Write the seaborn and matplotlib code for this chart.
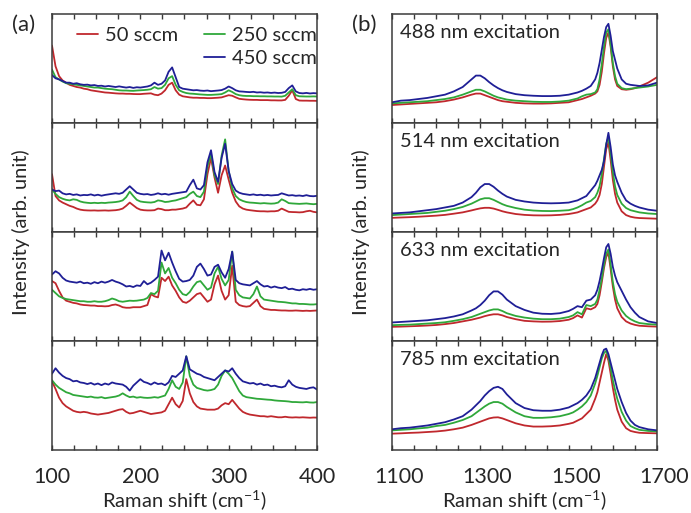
import numpy as np
import pandas as pd
import matplotlib
matplotlib.use("Agg")
import matplotlib.pyplot as plt
from matplotlib.lines import Line2D
from matplotlib.ticker import MultipleLocator, FixedLocator, NullFormatter
from matplotlib.transforms import ScaledTranslation
import seaborn as sns

# ---------------- data ----------------
flows = ["50 sccm", "250 sccm", "450 sccm"]
colors = ["#c0282d", "#2fa83a", "#1f1f96"]
lasers = ["488 nm excitation", "514 nm excitation", "633 nm excitation", "785 nm excitation"]
ticks_a = [100, 200, 300, 400]
ticks_b = [1100, 1300, 1500, 1700]

x_a = list(range(100, 401, 4))

a1_red = [0.71, 0.52, 0.43, 0.39, 0.37, 0.35, 0.34, 0.33, 0.325, 0.315,
          0.31, 0.30, 0.295, 0.29, 0.285, 0.28, 0.278, 0.275, 0.272, 0.27,
          0.27, 0.268, 0.268, 0.266, 0.265, 0.265, 0.268, 0.27, 0.272, 0.26,
          0.255, 0.27, 0.30, 0.35, 0.37, 0.30, 0.26, 0.245, 0.24, 0.235,
          0.232, 0.232, 0.23, 0.23, 0.228, 0.228, 0.23, 0.232, 0.235, 0.245,
          0.255, 0.25, 0.235, 0.222, 0.218, 0.215, 0.213, 0.212, 0.212, 0.21,
          0.21, 0.21, 0.208, 0.208, 0.207, 0.207, 0.212, 0.25, 0.30, 0.22,
          0.206, 0.205, 0.205, 0.204, 0.204, 0.203]
a1_green = [0.49, 0.42, 0.40, 0.38, 0.365, 0.36, 0.355, 0.35, 0.345, 0.34,
            0.335, 0.33, 0.325, 0.325, 0.32, 0.315, 0.312, 0.31, 0.305, 0.30,
            0.298, 0.298, 0.296, 0.295, 0.298, 0.30, 0.302, 0.305, 0.31, 0.33,
            0.315, 0.32, 0.35, 0.41, 0.43, 0.35, 0.30, 0.285, 0.275, 0.27,
            0.268, 0.265, 0.262, 0.26, 0.258, 0.258, 0.26, 0.262, 0.265, 0.28,
            0.30, 0.285, 0.265, 0.255, 0.25, 0.248, 0.248, 0.246, 0.246, 0.245,
            0.245, 0.244, 0.244, 0.243, 0.243, 0.242, 0.25, 0.28, 0.31, 0.255,
            0.245, 0.244, 0.243, 0.243, 0.244, 0.243]
a1_blue = [0.44, 0.41, 0.40, 0.385, 0.37, 0.37, 0.36, 0.365, 0.355, 0.35,
           0.352, 0.345, 0.348, 0.34, 0.342, 0.335, 0.34, 0.335, 0.33, 0.336,
           0.33, 0.325, 0.33, 0.322, 0.328, 0.325, 0.33, 0.335, 0.345, 0.37,
           0.35, 0.36, 0.39, 0.47, 0.51, 0.42, 0.33, 0.315, 0.31, 0.305,
           0.30, 0.302, 0.297, 0.295, 0.298, 0.292, 0.295, 0.298, 0.302, 0.315,
           0.335, 0.32, 0.30, 0.29, 0.288, 0.285, 0.283, 0.286, 0.28, 0.282,
           0.278, 0.28, 0.276, 0.279, 0.275, 0.277, 0.285, 0.32, 0.345, 0.29,
           0.275, 0.272, 0.276, 0.271, 0.274, 0.272]

a2_red = [0.53, 0.33, 0.29, 0.27, 0.255, 0.24, 0.23, 0.215, 0.205, 0.20,
          0.198, 0.197, 0.198, 0.196, 0.197, 0.198, 0.196, 0.198, 0.20, 0.205,
          0.215, 0.24, 0.27, 0.245, 0.22, 0.205, 0.20, 0.198, 0.198, 0.20,
          0.215, 0.21, 0.20, 0.20, 0.205, 0.205, 0.21, 0.215, 0.225, 0.26,
          0.29, 0.25, 0.245, 0.30, 0.53, 0.68, 0.50, 0.36, 0.52, 0.61,
          0.48, 0.36, 0.28, 0.235, 0.215, 0.205, 0.20, 0.196, 0.192, 0.19,
          0.19, 0.188, 0.19, 0.19, 0.195, 0.215, 0.20, 0.185, 0.183, 0.182,
          0.18, 0.182, 0.19, 0.195, 0.185, 0.18]
a2_green = [0.39, 0.35, 0.32, 0.305, 0.295, 0.29, 0.30, 0.295, 0.28, 0.272,
            0.268, 0.265, 0.268, 0.265, 0.268, 0.266, 0.27, 0.272, 0.275, 0.28,
            0.29, 0.32, 0.37, 0.33, 0.295, 0.28, 0.275, 0.272, 0.27, 0.275,
            0.29, 0.285, 0.275, 0.278, 0.285, 0.29, 0.30, 0.31, 0.32, 0.35,
            0.37, 0.33, 0.32, 0.37, 0.60, 0.72, 0.52, 0.44, 0.70, 0.85,
            0.56, 0.40, 0.33, 0.30, 0.285, 0.275, 0.27, 0.268, 0.265, 0.262,
            0.265, 0.262, 0.26, 0.262, 0.27, 0.30, 0.285, 0.265, 0.262, 0.26,
            0.258, 0.26, 0.262, 0.258, 0.255, 0.258]
a2_blue = [0.39, 0.375, 0.38, 0.355, 0.345, 0.35, 0.34, 0.345, 0.335, 0.34,
           0.338, 0.345, 0.335, 0.342, 0.333, 0.34, 0.345, 0.35, 0.355, 0.35,
           0.36, 0.39, 0.42, 0.39, 0.36, 0.35, 0.345, 0.348, 0.34, 0.345,
           0.355, 0.345, 0.35, 0.342, 0.35, 0.355, 0.36, 0.365, 0.37, 0.43,
           0.48, 0.40, 0.39, 0.43, 0.64, 0.75, 0.55, 0.46, 0.68, 0.81,
           0.56, 0.44, 0.38, 0.36, 0.35, 0.345, 0.34, 0.345, 0.338, 0.342,
           0.336, 0.34, 0.335, 0.338, 0.34, 0.355, 0.345, 0.335, 0.338, 0.332,
           0.335, 0.33, 0.338, 0.33, 0.328, 0.332]

a3_red = [0.55, 0.53, 0.46, 0.40, 0.37, 0.36, 0.35, 0.345, 0.335, 0.33,
          0.328, 0.325, 0.325, 0.32, 0.32, 0.318, 0.32, 0.33, 0.335, 0.325,
          0.31, 0.305, 0.305, 0.31, 0.31, 0.31, 0.32, 0.33, 0.43, 0.41,
          0.40, 0.58, 0.55, 0.59, 0.51, 0.46, 0.40, 0.36, 0.35, 0.37,
          0.40, 0.43, 0.44, 0.40, 0.36, 0.38, 0.52, 0.60, 0.46, 0.38,
          0.42, 0.69, 0.36, 0.33, 0.32, 0.315, 0.32, 0.35, 0.38, 0.32,
          0.295, 0.29, 0.285, 0.285, 0.282, 0.28, 0.28, 0.278, 0.278, 0.28,
          0.278, 0.276, 0.278, 0.276, 0.278, 0.28]
a3_green = [0.47, 0.44, 0.41, 0.395, 0.385, 0.38, 0.375, 0.37, 0.365, 0.365,
            0.36, 0.36, 0.365, 0.36, 0.36, 0.365, 0.375, 0.39, 0.38, 0.365,
            0.36, 0.365, 0.37, 0.368, 0.37, 0.375, 0.38, 0.395, 0.44, 0.43,
            0.46, 0.72, 0.62, 0.67, 0.58, 0.53, 0.47, 0.43, 0.42, 0.45,
            0.50, 0.54, 0.55, 0.51, 0.47, 0.49, 0.62, 0.68, 0.57, 0.51,
            0.56, 0.82, 0.47, 0.42, 0.40, 0.395, 0.39, 0.43, 0.50, 0.41,
            0.38, 0.375, 0.37, 0.365, 0.36, 0.358, 0.355, 0.35, 0.345, 0.345,
            0.34, 0.34, 0.338, 0.335, 0.335, 0.338]
a3_blue = [0.61, 0.64, 0.62, 0.58, 0.555, 0.545, 0.54, 0.535, 0.545, 0.53,
           0.535, 0.525, 0.54, 0.53, 0.545, 0.535, 0.545, 0.56, 0.545, 0.535,
           0.52, 0.50, 0.505, 0.495, 0.51, 0.505, 0.55, 0.52, 0.535, 0.56,
           0.59, 0.83, 0.74, 0.81, 0.72, 0.64, 0.57, 0.545, 0.55, 0.56,
           0.60, 0.68, 0.71, 0.66, 0.60, 0.61, 0.68, 0.70, 0.63, 0.58,
           0.66, 0.82, 0.56, 0.53, 0.52, 0.515, 0.51, 0.53, 0.55, 0.52,
           0.50, 0.505, 0.49, 0.50, 0.49, 0.485, 0.495, 0.475, 0.48, 0.47,
           0.465, 0.475, 0.47, 0.478, 0.47, 0.475]

a4_red = [0.63, 0.56, 0.48, 0.43, 0.40, 0.38, 0.36, 0.35, 0.345, 0.35,
          0.345, 0.335, 0.33, 0.325, 0.33, 0.335, 0.34, 0.35, 0.36, 0.37,
          0.375, 0.35, 0.335, 0.34, 0.35, 0.36, 0.35, 0.34, 0.33, 0.335,
          0.34, 0.345, 0.36, 0.42, 0.48, 0.42, 0.39, 0.45, 0.65, 0.52,
          0.44, 0.40, 0.38, 0.375, 0.37, 0.37, 0.37, 0.38, 0.41, 0.43,
          0.42, 0.46, 0.42, 0.38, 0.35, 0.335, 0.325, 0.32, 0.315, 0.31,
          0.31, 0.305, 0.31, 0.305, 0.30, 0.30, 0.305, 0.30, 0.298, 0.30,
          0.298, 0.30, 0.298, 0.296, 0.298, 0.297]
a4_green = [0.64, 0.60, 0.57, 0.55, 0.53, 0.52, 0.505, 0.50, 0.495, 0.49,
            0.485, 0.49, 0.482, 0.48, 0.485, 0.475, 0.48, 0.485, 0.49, 0.50,
            0.52, 0.50, 0.485, 0.49, 0.48, 0.485, 0.48, 0.478, 0.48, 0.485,
            0.48, 0.49, 0.50, 0.56, 0.64, 0.58, 0.56, 0.62, 0.86, 0.68,
            0.60, 0.57, 0.56, 0.55, 0.545, 0.55, 0.56, 0.60, 0.68, 0.73,
            0.70, 0.66, 0.60, 0.54, 0.50, 0.485, 0.48, 0.475, 0.47, 0.468,
            0.465, 0.462, 0.46, 0.455, 0.452, 0.45, 0.448, 0.445, 0.44, 0.44,
            0.438, 0.437, 0.44, 0.436, 0.435, 0.44]
a4_blue = [0.70, 0.75, 0.71, 0.68, 0.66, 0.65, 0.63, 0.635, 0.62, 0.615,
           0.605, 0.615, 0.60, 0.61, 0.595, 0.61, 0.60, 0.62, 0.61, 0.605,
           0.60, 0.58, 0.545, 0.59, 0.62, 0.65, 0.625, 0.615, 0.60, 0.62,
           0.605, 0.61, 0.595, 0.62, 0.68, 0.67, 0.70, 0.73, 0.86, 0.74,
           0.72, 0.70, 0.69, 0.67, 0.66, 0.65, 0.64, 0.67, 0.70, 0.73,
           0.72, 0.75, 0.70, 0.66, 0.63, 0.62, 0.61, 0.615, 0.60, 0.61,
           0.595, 0.60, 0.585, 0.59, 0.58, 0.575, 0.585, 0.64, 0.60, 0.58,
           0.57, 0.565, 0.56, 0.57, 0.575, 0.555]

x_b = [1100, 1120, 1140, 1160, 1180, 1200, 1220, 1240, 1260, 1280,
       1290, 1300, 1310, 1320, 1330, 1340, 1350, 1360,
       1380, 1400, 1420, 1440, 1460, 1480, 1500,
       1510, 1520, 1530, 1540, 1550, 1560,
       1565, 1570, 1575, 1580, 1585, 1590, 1595, 1600, 1605, 1610,
       1620, 1630, 1640, 1650, 1660, 1680, 1700]

b1_red = [0.165, 0.17, 0.175, 0.18, 0.185, 0.19, 0.20, 0.215, 0.235, 0.26,
          0.27, 0.27, 0.255, 0.24, 0.225, 0.21, 0.20, 0.195,
          0.185, 0.18, 0.178, 0.178, 0.18, 0.185, 0.19,
          0.20, 0.21, 0.22, 0.235, 0.25, 0.27,
          0.29, 0.35, 0.47, 0.64, 0.78, 0.83, 0.70, 0.52, 0.40, 0.34,
          0.31, 0.305, 0.31, 0.32, 0.335, 0.37, 0.42]
b1_green = [0.18, 0.185, 0.19, 0.195, 0.20, 0.21, 0.22, 0.235, 0.26, 0.29,
            0.305, 0.305, 0.29, 0.27, 0.25, 0.235, 0.225, 0.215,
            0.205, 0.20, 0.195, 0.193, 0.193, 0.197, 0.205,
            0.215, 0.225, 0.245, 0.26, 0.265, 0.28,
            0.31, 0.40, 0.54, 0.70, 0.83, 0.86, 0.72, 0.55, 0.43, 0.36,
            0.32, 0.31, 0.315, 0.32, 0.325, 0.335, 0.35]
b1_blue = [0.19, 0.205, 0.21, 0.22, 0.23, 0.245, 0.26, 0.29, 0.33, 0.40,
           0.435, 0.435, 0.41, 0.375, 0.345, 0.32, 0.30, 0.285,
           0.265, 0.255, 0.25, 0.247, 0.247, 0.25, 0.26,
           0.27, 0.28, 0.295, 0.315, 0.34, 0.40,
           0.46, 0.55, 0.67, 0.79, 0.88, 0.91, 0.80, 0.66, 0.58, 0.50,
           0.40, 0.36, 0.35, 0.345, 0.34, 0.345, 0.37]

b2_red = [0.13, 0.133, 0.136, 0.14, 0.145, 0.15, 0.157, 0.168, 0.18, 0.198,
          0.208, 0.217, 0.222, 0.222, 0.215, 0.203, 0.19, 0.18,
          0.165, 0.157, 0.153, 0.152, 0.153, 0.157, 0.165,
          0.172, 0.18, 0.195, 0.21, 0.225, 0.26,
          0.29, 0.34, 0.44, 0.60, 0.76, 0.82, 0.66, 0.48, 0.35, 0.27,
          0.19, 0.155, 0.14, 0.132, 0.128, 0.125, 0.122]
b2_green = [0.155, 0.16, 0.165, 0.17, 0.175, 0.185, 0.195, 0.21, 0.23, 0.26,
            0.28, 0.30, 0.31, 0.31, 0.295, 0.275, 0.255, 0.24,
            0.22, 0.205, 0.197, 0.193, 0.192, 0.195, 0.20,
            0.21, 0.225, 0.245, 0.27, 0.285, 0.32,
            0.36, 0.42, 0.53, 0.67, 0.81, 0.87, 0.72, 0.55, 0.42, 0.34,
            0.26, 0.22, 0.20, 0.19, 0.18, 0.17, 0.165]
b2_blue = [0.17, 0.175, 0.18, 0.19, 0.20, 0.21, 0.225, 0.24, 0.27, 0.32,
           0.36, 0.41, 0.44, 0.44, 0.415, 0.38, 0.35, 0.325,
           0.295, 0.28, 0.27, 0.265, 0.263, 0.265, 0.27,
           0.28, 0.29, 0.31, 0.33, 0.38, 0.43,
           0.47, 0.52, 0.57, 0.65, 0.80, 0.91, 0.78, 0.62, 0.52, 0.46,
           0.36, 0.29, 0.26, 0.24, 0.225, 0.205, 0.195]

b3_red = [0.13, 0.132, 0.135, 0.138, 0.142, 0.147, 0.155, 0.165, 0.18, 0.195,
          0.205, 0.215, 0.228, 0.238, 0.245, 0.245, 0.235, 0.22,
          0.20, 0.185, 0.18, 0.177, 0.178, 0.183, 0.195,
          0.21, 0.235, 0.215, 0.30, 0.29, 0.31,
          0.34, 0.42, 0.54, 0.67, 0.77, 0.81, 0.66, 0.50, 0.38, 0.30,
          0.22, 0.18, 0.16, 0.148, 0.14, 0.135, 0.132]
b3_green = [0.145, 0.148, 0.15, 0.155, 0.16, 0.165, 0.172, 0.185, 0.20, 0.22,
            0.235, 0.25, 0.265, 0.28, 0.29, 0.29, 0.275, 0.255,
            0.23, 0.215, 0.205, 0.20, 0.20, 0.205, 0.22,
            0.235, 0.265, 0.245, 0.33, 0.32, 0.34,
            0.38, 0.47, 0.57, 0.70, 0.80, 0.84, 0.70, 0.54, 0.43, 0.36,
            0.28, 0.23, 0.20, 0.18, 0.165, 0.155, 0.15]
b3_blue = [0.17, 0.175, 0.18, 0.185, 0.19, 0.20, 0.21, 0.225, 0.245, 0.28,
           0.30, 0.33, 0.37, 0.42, 0.455, 0.455, 0.425, 0.38,
           0.32, 0.285, 0.26, 0.25, 0.248, 0.255, 0.275,
           0.295, 0.32, 0.31, 0.37, 0.38, 0.42,
           0.47, 0.55, 0.65, 0.76, 0.86, 0.89, 0.80, 0.68, 0.60, 0.54,
           0.46, 0.38, 0.31, 0.26, 0.22, 0.18, 0.165]

b4_red = [0.15, 0.153, 0.157, 0.16, 0.165, 0.17, 0.178, 0.19, 0.205, 0.23,
          0.245, 0.26, 0.275, 0.29, 0.298, 0.30, 0.29, 0.275,
          0.245, 0.225, 0.215, 0.215, 0.218, 0.225, 0.24,
          0.25, 0.27, 0.29, 0.33, 0.37, 0.47,
          0.53, 0.62, 0.71, 0.80, 0.88, 0.82, 0.70, 0.57, 0.46, 0.37,
          0.26, 0.20, 0.175, 0.165, 0.158, 0.155, 0.153]
b4_green = [0.18, 0.185, 0.19, 0.198, 0.205, 0.22, 0.23, 0.25, 0.275, 0.31,
            0.34, 0.37, 0.40, 0.425, 0.44, 0.44, 0.425, 0.395,
            0.345, 0.31, 0.295, 0.295, 0.30, 0.31, 0.33,
            0.345, 0.37, 0.40, 0.44, 0.50, 0.61,
            0.68, 0.76, 0.84, 0.89, 0.91, 0.85, 0.75, 0.64, 0.55, 0.47,
            0.35, 0.27, 0.22, 0.20, 0.185, 0.175, 0.17]
b4_blue = [0.19, 0.20, 0.205, 0.215, 0.225, 0.24, 0.255, 0.28, 0.31, 0.37,
           0.41, 0.45, 0.50, 0.54, 0.57, 0.58, 0.56, 0.51,
           0.43, 0.385, 0.365, 0.36, 0.36, 0.37, 0.39,
           0.41, 0.43, 0.46, 0.50, 0.56, 0.66,
           0.73, 0.80, 0.87, 0.92, 0.93, 0.88, 0.80, 0.72, 0.64, 0.56,
           0.44, 0.34, 0.27, 0.23, 0.21, 0.19, 0.18]

left_panels = [(a1_red, a1_green, a1_blue), (a2_red, a2_green, a2_blue),
               (a3_red, a3_green, a3_blue), (a4_red, a4_green, a4_blue)]
right_panels = [(b1_red, b1_green, b1_blue), (b2_red, b2_green, b2_blue),
                (b3_red, b3_green, b3_blue), (b4_red, b4_green, b4_blue)]


def long_df(x, series):
    rows = []
    for name, ys in zip(flows, series):
        assert len(ys) == len(x), (name, len(ys), len(x))
        for xv, yv in zip(x, ys):
            rows.append((xv, yv, name))
    return pd.DataFrame(rows, columns=["shift", "intensity", "flow"])


# ---------------- style ----------------
sns.set_theme(style="white")
FONT = ["Lato", "DejaVu Sans"]
plt.rcParams["font.family"] = FONT
plt.rcParams["mathtext.fontset"] = "custom"
plt.rcParams["mathtext.rm"] = "Lato"
plt.rcParams["mathtext.it"] = "Lato:italic"
plt.rcParams["mathtext.bf"] = "Lato:bold"
TXT = "#262626"
SPINE = "#3a3a3a"
FS = 14.5
TFS = 15.5

W, H = 691, 513
fig = plt.figure(figsize=(W / 100, H / 100), dpi=100)

top_px, bot_px = 14, 450
panel_h = (bot_px - top_px) / 4
lefts = [52, 392]
width_px = 265
palette = dict(zip(flows, colors))


def make_axes(col):
    axes = []
    for i in range(4):
        top_i = top_px + i * panel_h
        ax = fig.add_axes([lefts[col] / W, (H - top_i - panel_h) / H,
                           width_px / W, panel_h / H])
        axes.append(ax)
    return axes


axes_a = make_axes(0)
axes_b = make_axes(1)

for col, (axes, xs, panels, xlim, minor, majors) in enumerate([
        (axes_a, x_a, left_panels, (100, 400), 25, ticks_a),
        (axes_b, x_b, right_panels, (1100, 1700), 50, ticks_b)]):
    for i, ax in enumerate(axes):
        df = long_df(xs, panels[i])
        sns.lineplot(data=df, x="shift", y="intensity", hue="flow",
                     hue_order=flows, palette=palette, estimator=None,
                     legend=False, linewidth=1.3, ax=ax)
        ax.set_xlim(*xlim)
        ax.set_ylim(0, 1)
        ax.set_xlabel("")
        ax.set_ylabel("")
        ax.set_yticks([])
        ax.xaxis.set_major_locator(FixedLocator(majors))
        ax.xaxis.set_minor_locator(MultipleLocator(minor))
        ax.tick_params(axis="x", which="both", direction="in", top=True,
                       bottom=True, length=3.5, width=1.0, color=SPINE,
                       labelsize=TFS, labelcolor=TXT, pad=12)
        for sp in ax.spines.values():
            sp.set_color(SPINE)
            sp.set_linewidth(1.1)
        if i < 3:
            ax.xaxis.set_major_formatter(NullFormatter())
        if col == 1:
            ax.text(0.03, 0.83, lasers[i], transform=ax.transAxes,
                    fontsize=FS, color=TXT, ha="left", va="center")

for ax in (axes_a[3], axes_b[3]):
    ax.set_xlabel(r"Raman shift (cm$^{\mathregular{-1}}$)", fontsize=FS,
                  color=TXT, labelpad=1)

# shift right-panel tick labels slightly to the right, as in the reference
fig.canvas.draw()
for lbl in axes_b[3].get_xticklabels():
    lbl.set_transform(lbl.get_transform() + ScaledTranslation(7 / 100, 0, fig.dpi_scale_trans))

# legend in (a) top panel
handles = [Line2D([], [], color=colors[0], lw=1.3),
           Line2D([], [], color="none", lw=0),
           Line2D([], [], color=colors[1], lw=1.3),
           Line2D([], [], color=colors[2], lw=1.3)]
labels = [flows[0], "", flows[1], flows[2]]
axes_a[0].legend(handles, labels, ncol=2, loc="upper left",
                 bbox_to_anchor=(0.025, 1.05), frameon=False, fontsize=FS,
                 handlelength=1.05, handletextpad=0.35, columnspacing=1.3,
                 labelspacing=0.3, labelcolor=TXT)

fig.text(12 / W, 1 - 25 / H, "(a)", fontsize=16, color=TXT, ha="left", va="center")
fig.text(352 / W, 1 - 25 / H, "(b)", fontsize=16, color=TXT, ha="left", va="center")
fig.text(21 / W, 1 - 232 / H, "Intensity (arb. unit)", rotation=90,
         fontsize=FS, color=TXT, ha="center", va="center")
fig.text(361 / W, 1 - 232 / H, "Intensity (arb. unit)", rotation=90,
         fontsize=FS, color=TXT, ha="center", va="center")

fig.savefig("out.png", dpi=100)
